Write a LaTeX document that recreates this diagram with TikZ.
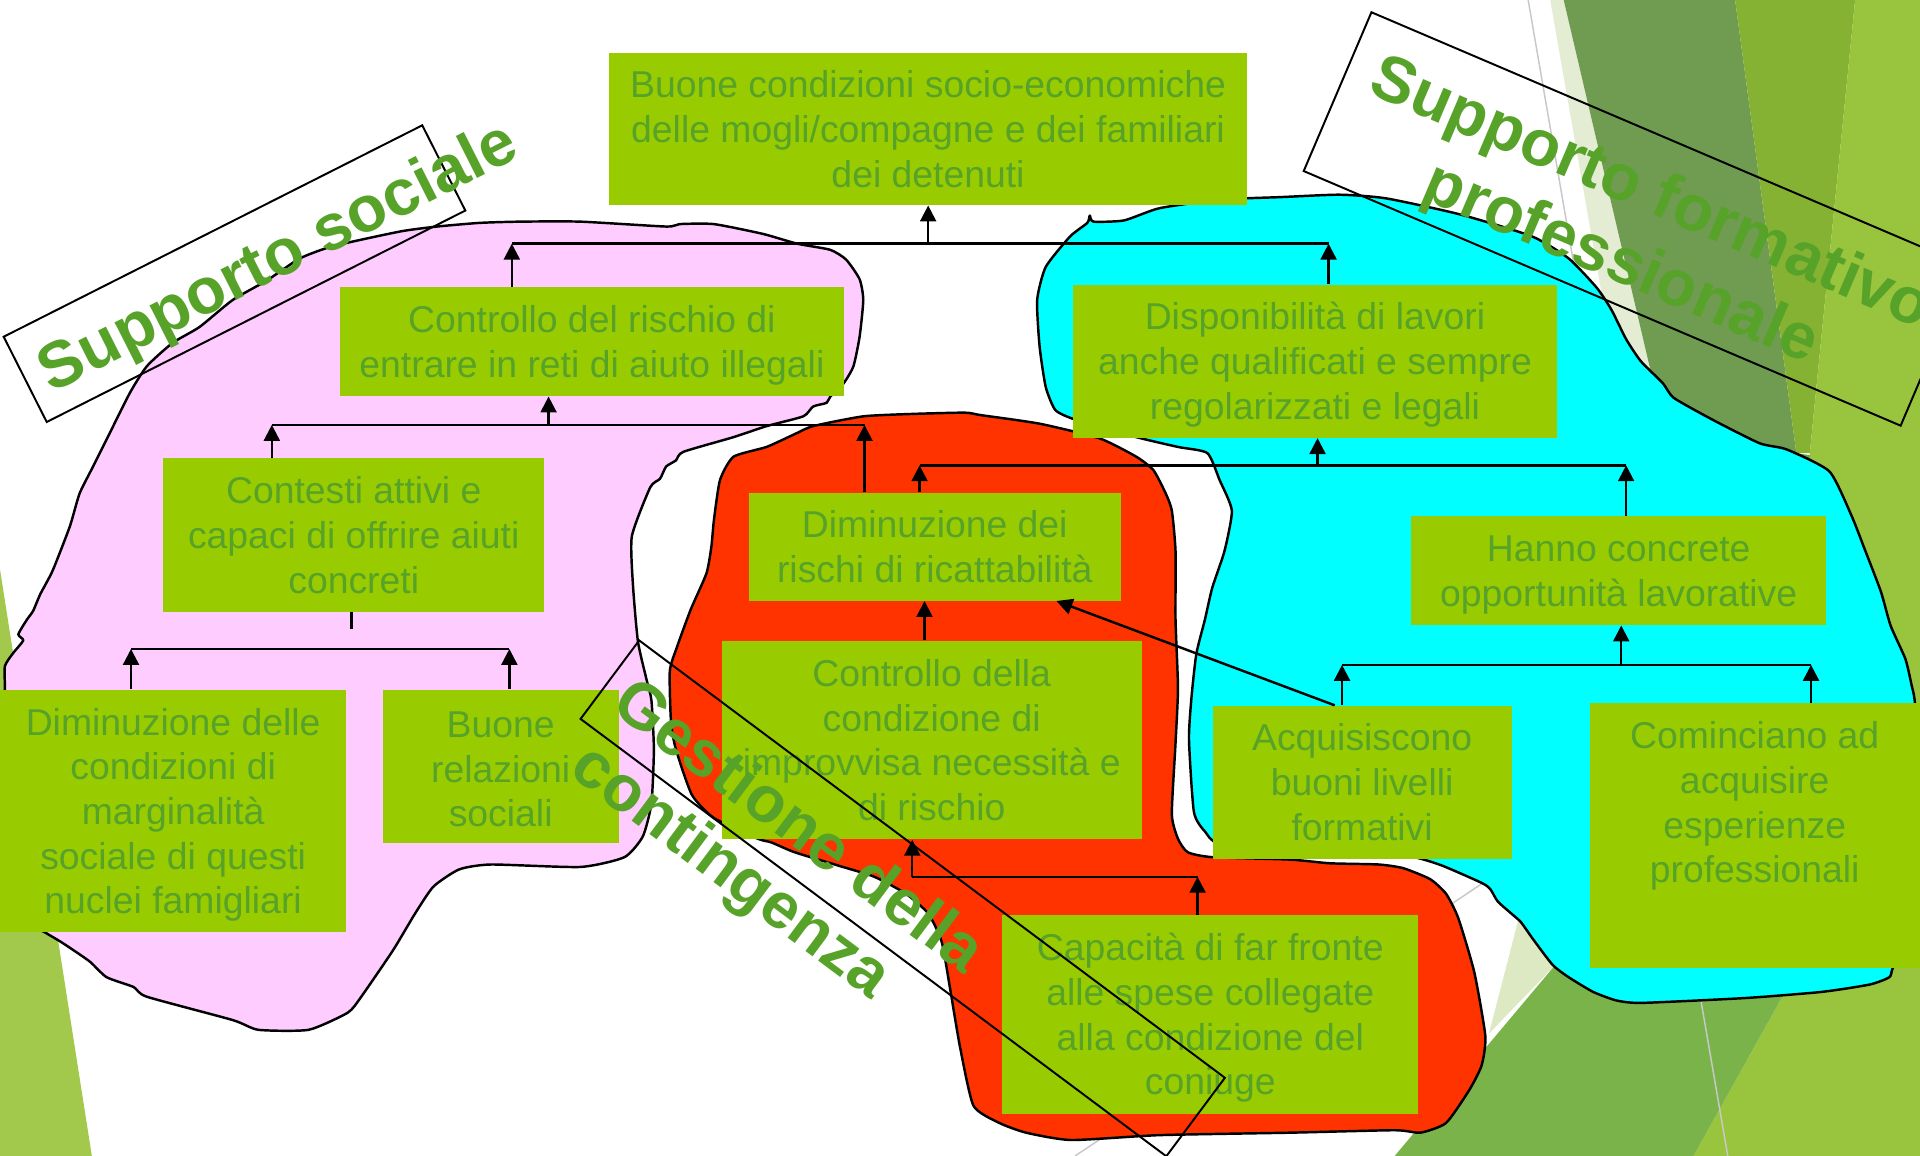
\documentclass[tikz,border=0pt]{standalone}
\usepackage{fontspec}
\setmainfont{Liberation Sans}
\usetikzlibrary{arrows.meta,calc}
\definecolor{boxg}{HTML}{99CC00}
\definecolor{txtg}{HTML}{57A229}
\definecolor{pinkb}{HTML}{FFCCFF}
\definecolor{cyanb}{HTML}{00FFFF}
\definecolor{redb}{HTML}{FF3300}
\definecolor{leftg}{HTML}{A2C94C}
\definecolor{paleg}{HTML}{E4EDD3}
\definecolor{oliveg}{HTML}{6F9C51}
\definecolor{medg}{HTML}{85B232}
\definecolor{lightg}{HTML}{99C43D}
\definecolor{botmedg}{HTML}{7BB34B}
\definecolor{botpale}{HTML}{DCE9C3}
\definecolor{greyl}{HTML}{C8C8C8}
\newcommand{\lowr}[1]{\rule{0pt}{#1}}
\begin{document}
\begin{tikzpicture}[x=0.5pt,y=-0.5pt,
 boxnode/.style={fill=boxg, text=txtg, inner sep=0pt, align=center, anchor=north west, font=\fontsize{15.25pt}{18.25pt}\selectfont},
 boxtext/.style={text=txtg, inner sep=0pt, align=center, font=\fontsize{15.25pt}{18.25pt}\selectfont},
 blob/.style={draw=black, line width=1pt, line join=round},
 conn/.style={draw=black, line width=1pt},
 arr/.style={conn, -{Triangle[length=6.5pt,width=6.5pt]}},
 labelbox/.style={draw=black, line width=0.8pt},
 labeltext/.style={text=txtg, inner sep=0pt, font=\fontsize{26.5pt}{31pt}\selectfont\bfseries, transform shape},
 bgline/.style={draw=greyl, line width=0.6pt}
]
\useasboundingbox (0,0) rectangle (1568,944);
\clip (0,0) rectangle (1568,944);
\fill[white] (0,0) rectangle (1568,944);

% ---------- background facets ----------
\fill[leftg] (0,465) -- (75,944) -- (0,944) -- cycle;
\fill[paleg] (1266,0) -- (1277,0) -- (1352,320) -- (1322,320) -- cycle;
\fill[oliveg] (1277,0) -- (1417,0) -- (1467,370) -- (1480,372) -- (1505,600) -- (1420,700) -- (1352,320) -- cycle;
\fill[medg] (1417,0) -- (1515,0) -- (1478,370) -- (1467,370) -- cycle;
\fill[lightg] (1515,0) -- (1568,0) -- (1568,944) -- (1383,944) -- (1455,815) -- (1478,370) -- cycle;
\fill[botpale] (1216,844) -- (1240,751) -- (1250,700) -- (1290,700) -- (1271,787) -- cycle;
\fill[botmedg] (1139,944) -- (1271,787) -- (1300,740) -- (1470,760) -- (1455,815) -- (1383,944) -- cycle;
\draw[bgline] (1248,0) -- (1411,944);
\draw[bgline] (878,944) -- (1250,695);

% ---------- blobs ----------
\draw[blob, fill=pinkb] plot[smooth cycle, tension=0.35] coordinates {(4,563) (4,544) (11,533) (19,523) (15,518) (22,506) (27,499) (33,485) (43,466) (57,430) (65,403) (76,381) (87,359) (106,321) (120,299) (141,280) (163,267) (190,245) (218,229) (245,211) (272,201) (327,189) (357,185) (392,182) (425,181) (474,181) (544,185) (555,183) (583,183) (623,191) (651,199) (678,204) (691,212) (702,228) (705,245) (702,275) (697,299) (689,313) (678,324) (675,329) (664,332) (656,340) (626,348) (599,357) (558,369) (552,376) (544,381) (539,391) (531,398) (516,438) (517,479) (521,524) (528,555) (532,572) (534,612) (532,656) (525,683) (510,700) (474,708) (401,706) (375,710) (354,724) (339,746) (321,776) (295,814) (284,827) (252,841) (211,841) (190,833) (120,814) (109,806) (87,798) (73,785) (51,770) (36,761) (10,745) (4,650)};

\draw[blob, fill=redb] plot[smooth cycle, tension=0.35] coordinates {(599,373) (626,365) (648,355) (664,348) (705,340) (746,338) (788,337) (801,339) (849,346) (898,358) (928,373) (942,384) (952,403) (957,417) (960,450) (960,506) (962,562) (960,607) (957,665) (962,685) (970,696) (990,700) (1054,702) (1086,705) (1126,706) (1146,709) (1168,718) (1181,730) (1191,750) (1204,794) (1213,846) (1210,870) (1200,890) (1181,917) (1160,925) (1139,923) (1054,925) (947,927) (875,931) (838,925) (816,917) (795,903) (784,855) (776,808) (769,769) (758,746) (740,730) (714,716) (685,707) (649,696) (630,688) (619,685) (583,668) (565,649) (552,612) (548,590) (547,548) (553,528) (564,498) (577,468) (581,446) (583,425) (588,392)};

\draw[blob, fill=cyanb] plot[smooth cycle, tension=0.35] coordinates {(888,182) (890,176) (893,181) (918,180) (947,170) (996,163) (1045,161) (1094,159) (1132,162) (1192,175) (1251,193) (1281,211) (1304,235) (1316,253) (1328,277) (1340,295) (1358,313) (1367,325) (1399,343) (1437,362) (1459,367) (1494,385) (1512,421) (1523,449) (1536,483) (1544,511) (1556,538) (1561,559) (1564,576) (1567,650) (1562,760) (1546,790) (1543,798) (1527,804) (1488,810) (1426,815) (1341,819) (1320,817) (1301,810) (1281,798) (1268,788) (1252,767) (1242,753) (1233,745) (1223,736) (1217,726) (1210,721) (1178,707) (1155,700) (1100,690) (1000,690) (984,679) (975,663) (971,604) (973,570) (977,534) (984,506) (990,480) (1000,450) (1006,417) (996,392) (986,370) (962,365) (928,357) (879,343) (862,335) (854,316) (849,283) (847,245) (854,218) (874,193)};

% ---------- boxes ----------
\node[boxnode, minimum width=260.5pt, minimum height=62pt] (b1) at (497,43) {Buone condizioni socio-economiche\\delle mogli/compagne e dei familiari\\dei detenuti};
\node[boxnode, minimum width=206pt, minimum height=44.5pt] (b2) at (277,234) {\lowr{14pt}Controllo del rischio di\\entrare in reti di aiuto illegali};
\node[boxnode, minimum width=197.5pt, minimum height=62.5pt] (b3) at (876,232) {\lowr{14pt}Disponibilità di lavori\\anche qualificati e sempre\\regolarizzati e legali};
\node[boxnode, minimum width=155.5pt, minimum height=62.5pt] (b4) at (133,374) {Contesti attivi e\\capaci di offrire aiuti\\concreti};
\node[boxnode, minimum width=152pt, minimum height=44pt] (b5) at (611,402) {Diminuzione dei\\rischi di ricattabilità};
\node[boxnode, minimum width=169.5pt, minimum height=44.5pt] (b6) at (1152,421) {\lowr{14pt}Hanno concrete\\opportunità lavorative};
\node[boxnode, minimum width=171.5pt, minimum height=81pt] (b7) at (589,523) {Controllo della\\condizione di\\improvvisa necessità e\\di rischio};
\node[boxnode, minimum width=141pt, minimum height=99pt] (b8) at (0,563) {\lowr{14pt}Diminuzione delle\\condizioni di\\marginalità\\sociale di questi\\nuclei famigliari};
\node[boxnode, minimum width=96.5pt, minimum height=62.5pt] (b9) at (312,563) {\lowr{13pt}Buone\\relazioni\\sociali};
\node[boxnode, minimum width=122pt, minimum height=62.5pt] (b10) at (990,576) {Acquisiscono\\buoni livelli\\formativi};
\node[boxnode, minimum width=135pt, minimum height=108pt] (b11) at (1298,574) {};
\node[boxtext, anchor=north] (b11t) at (1433,589) {Cominciano ad\\acquisire\\esperienze\\professionali};
\node[boxnode, minimum width=170pt, minimum height=81pt] (b12) at (818,747) {\lowr{14pt}Capacità di far fronte\\alle spese collegate\\alla condizione del\\coniuge};

% ---------- connectors ----------
\coordinate (jA1) at (418,199); \coordinate (jA2) at (1085,199); \coordinate (jA3) at (758,199);
\draw[arr] (b2.north -| jA1) -- (jA1);
\draw[arr] (b3.north -| jA2) -- (jA2);
\draw[conn] (jA1) -- (jA2);
\draw[arr] (jA3) -- (b1.south -| jA3);

\coordinate (jB1) at (222,347); \coordinate (jB2) at (706,347); \coordinate (jB3) at (448,347);
\draw[arr] (b4.north -| jB1) -- (jB1);
\draw[arr] (b5.north -| jB2) -- (jB2);
\draw[conn] (jB1) -- (jB2);
\draw[arr] (jB3) -- (b2.south -| jB3);

\coordinate (jC1) at (751,380); \coordinate (jC2) at (1328,380); \coordinate (jC3) at (1076,380);
\draw[arr] (b5.north -| jC1) -- (jC1);
\draw[arr] (b6.north -| jC2) -- (jC2);
\draw[conn] (jC1) -- (jC2);
\draw[arr] (jC3) -- (b3.south -| jC3);

\coordinate (kD) at (755,500);
\draw[arr] (b7.north -| kD) -- (b5.south -| kD);
\draw[arr] ($(b10.north west)+(100,0)$) -- ($(b5.south east)+(-53,0)$);

\coordinate (jE1) at (107,530); \coordinate (jE2) at (416,530); \coordinate (tE) at (287,514);
\draw[arr] (b8.north -| jE1) -- (jE1);
\draw[arr] (b9.north -| jE2) -- (jE2);
\draw[conn] (jE1) -- (jE2);
\draw[conn] (b4.south -| tE) -- (tE);

\coordinate (jF1) at (745,716); \coordinate (jF2) at (978,716);
\draw[arr] (b12.north -| jF2) -- (jF2);
\draw[conn] (jF2) -- (jF1);
\draw[arr] (jF1) -- (b7.south -| jF1);

\coordinate (jG1) at (1096,543); \coordinate (jG2) at (1479,543); \coordinate (jG3) at (1324,543);
\draw[arr] (b10.north -| jG1) -- (jG1);
\draw[arr] (b11.north -| jG2) -- (jG2);
\draw[conn] (jG1) -- (jG2);
\draw[arr] (jG3) -- (b6.south -| jG3);

% ---------- rotated labels ----------
\begin{scope}[shift={(3,275)}, rotate=26.8]
 \draw[labelbox] (0,0) rectangle (383,78);
 \node[labeltext, anchor=base west] (lsoc) at (14,59) {Supporto sociale};
\end{scope}
\begin{scope}[shift={(1120,10)}, rotate=-23.1]
 \draw[labelbox] (0,0) rectangle (530,141);
 \node[labeltext, anchor=base] (lfor1) at (268,62) {Supporto formativo};
 \node[labeltext, anchor=base] (lfor2) at (268,124) {professionale};
\end{scope}
\begin{scope}[shift={(522,523)}, rotate=-36.75]
 \draw[labelbox] (0,0) rectangle (597,80);
 \node[labeltext, anchor=base west] (lges1) at (14,60) {Gestione della};
 \node[labeltext, anchor=base west] (lges2) at (18,122) {contingenza};
\end{scope}
\end{tikzpicture}
\end{document}
